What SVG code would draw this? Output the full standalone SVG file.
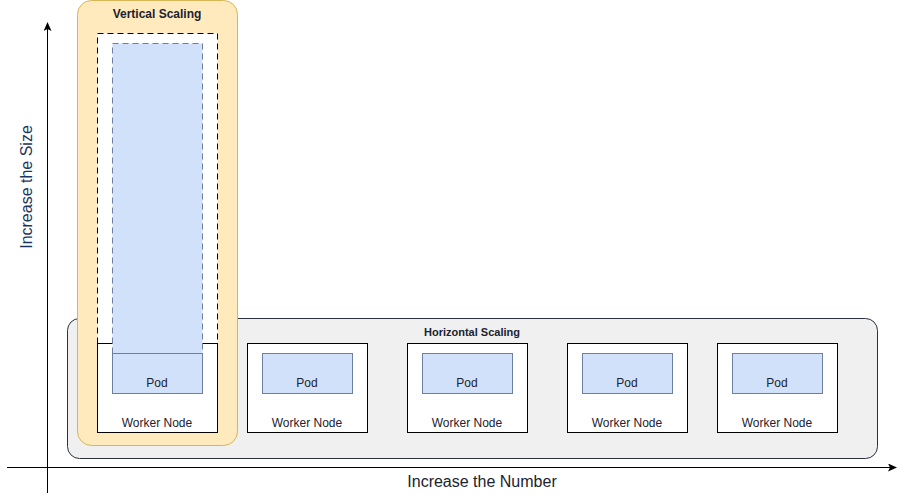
<svg xmlns="http://www.w3.org/2000/svg" width="906" height="503" viewBox="0 0 906 503">
<defs>
<style>
text{font-family:"Liberation Sans",Arial,sans-serif;fill:#1b2230}
.node{fill:#ffffff;stroke:#000000;stroke-width:1}
.pod{fill:#d0e1f9;stroke:#6c7fa0;stroke-width:1}
.lbl{font-size:12px;text-anchor:middle}
.title{font-size:11px;font-weight:bold;text-anchor:middle}
.axis{stroke:#000;stroke-width:1;fill:none}
</style>
<marker id="arr" markerWidth="10" markerHeight="10" refX="8" refY="4" orient="auto" markerUnits="userSpaceOnUse">
<path d="M0,0 L9,4 L0,8 L2,4 Z" fill="#000"/>
</marker>
</defs>
<rect width="906" height="503" fill="#ffffff"/>

<g id="horizontal-scaling">
<rect x="67.5" y="318.5" width="810" height="140" rx="12" fill="#f0f0f0" stroke="#2a3240"/>
<text class="title" x="472" y="336">Horizontal Scaling</text>
</g>

<g id="vertical-scaling">
<rect x="77.5" y="0.5" width="160" height="445" rx="14" fill="#ffeabd" stroke="#d6b656"/>
<text class="title" x="157" y="18" style="font-size:12px">Vertical Scaling</text>
<rect x="97.5" y="33.5" width="120" height="310" fill="#ffffff" stroke="#000" stroke-dasharray="6 4"/>
</g>

<g id="worker-1">
<rect class="node" x="97.5" y="343.5" width="120" height="89"/>
<rect x="112.5" y="43.5" width="90" height="310" fill="#d0e1f9" stroke="#6c7fa0" stroke-dasharray="6 4"/>
<rect class="pod" x="112.5" y="353.5" width="90" height="40"/>
<text class="lbl" x="157" y="387">Pod</text>
<text class="lbl" x="157" y="427">Worker Node</text>
</g>

<g id="worker-2">
<rect class="node" x="247.5" y="343.5" width="120" height="89"/>
<rect class="pod" x="262.5" y="353.5" width="90" height="40"/>
<text class="lbl" x="307" y="387">Pod</text>
<text class="lbl" x="307" y="427">Worker Node</text>
</g>

<g id="worker-3">
<rect class="node" x="407.5" y="343.5" width="120" height="89"/>
<rect class="pod" x="422.5" y="353.5" width="90" height="40"/>
<text class="lbl" x="467" y="387">Pod</text>
<text class="lbl" x="467" y="427">Worker Node</text>
</g>

<g id="worker-4">
<rect class="node" x="567.5" y="343.5" width="120" height="89"/>
<rect class="pod" x="582.5" y="353.5" width="90" height="40"/>
<text class="lbl" x="627" y="387">Pod</text>
<text class="lbl" x="627" y="427">Worker Node</text>
</g>

<g id="worker-5">
<rect class="node" x="717.5" y="343.5" width="120" height="89"/>
<rect class="pod" x="732.5" y="353.5" width="90" height="40"/>
<text class="lbl" x="777" y="387">Pod</text>
<text class="lbl" x="777" y="427">Worker Node</text>
</g>

<g id="connectors">
<line class="axis" x1="47.5" y1="493" x2="47.5" y2="23" marker-end="url(#arr)"/>
<line class="axis" x1="7" y1="467.5" x2="896" y2="467.5" marker-end="url(#arr)"/>
</g>

<g id="axis-labels">
<text x="32" y="187" transform="rotate(-90 32 187)" style="font-size:16px;text-anchor:middle;fill:#1a3560">Increase the Size</text>
<text x="482" y="487" style="font-size:16px;text-anchor:middle">Increase the Number</text>
</g>
</svg>
